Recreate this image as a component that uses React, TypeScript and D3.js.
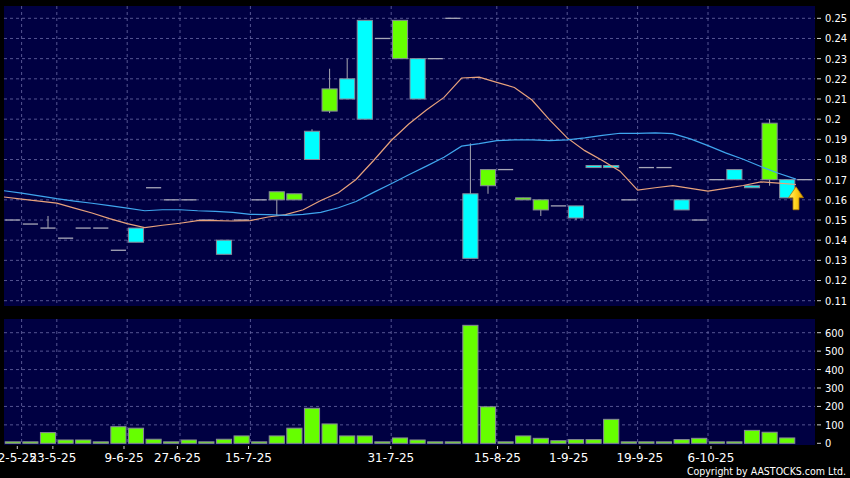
import React from 'react';
import * as d3 from 'd3';

// ---- data (one entry per trading slot) ----
const opens = [0.150, 0.148, 0.146, 0.141, 0.146, 0.146, 0.135, 0.146, 0.166, 0.160,
  0.160, 0.150, 0.140, 0.150, 0.160, 0.160, 0.160, 0.194, 0.204, 0.220,
  0.249, 0.240, 0.230, 0.230, 0.230, 0.250, 0.163, 0.167, 0.175, 0.160,
  0.155, 0.157, 0.157, 0.177, 0.177, 0.160, 0.176, 0.176, 0.160, 0.150,
  0.170, 0.175, 0.167, 0.170, 0.170, 0.170];
const highs = [0.150, 0.148, 0.152, 0.141, 0.146, 0.146, 0.135, 0.146, 0.166, 0.160,
  0.160, 0.150, 0.140, 0.150, 0.160, 0.164, 0.163, 0.195, 0.225, 0.230,
  0.249, 0.240, 0.249, 0.230, 0.230, 0.250, 0.188, 0.175, 0.175, 0.161,
  0.160, 0.157, 0.157, 0.177, 0.177, 0.160, 0.176, 0.176, 0.160, 0.150,
  0.170, 0.175, 0.167, 0.200, 0.170, 0.170];
const lows = [0.150, 0.148, 0.146, 0.141, 0.146, 0.146, 0.135, 0.139, 0.166, 0.160,
  0.160, 0.150, 0.133, 0.150, 0.160, 0.152, 0.160, 0.180, 0.203, 0.210,
  0.200, 0.240, 0.230, 0.210, 0.230, 0.250, 0.131, 0.163, 0.175, 0.160,
  0.152, 0.157, 0.150, 0.176, 0.176, 0.160, 0.176, 0.176, 0.155, 0.150,
  0.170, 0.170, 0.166, 0.167, 0.161, 0.170];
const closes = [0.150, 0.148, 0.146, 0.141, 0.146, 0.146, 0.135, 0.139, 0.166, 0.160,
  0.160, 0.150, 0.133, 0.150, 0.160, 0.164, 0.163, 0.180, 0.215, 0.210,
  0.200, 0.240, 0.249, 0.210, 0.230, 0.250, 0.131, 0.175, 0.175, 0.161,
  0.160, 0.157, 0.151, 0.176, 0.176, 0.160, 0.176, 0.176, 0.155, 0.150,
  0.170, 0.170, 0.166, 0.198, 0.161, 0.170];
const volumes = [8, 8, 58, 18, 18, 8, 90, 82, 22, 8,
  18, 8, 22, 40, 8, 40, 82, 190, 105, 40,
  40, 8, 29, 18, 8, 8, 640, 198, 8, 40,
  27, 14, 20, 20, 130, 8, 8, 8, 20, 27,
  8, 8, 70, 60, 29, 0];
const maShort = [0.1614, 0.1604, 0.1594, 0.1584, 0.1559, 0.1535, 0.1507, 0.1482, 0.1462, 0.1474,
  0.1484, 0.1497, 0.1497, 0.1495, 0.1497, 0.1515, 0.1527, 0.1551, 0.1597, 0.1635,
  0.1701, 0.1795, 0.1894, 0.1976, 0.2045, 0.2108, 0.2204, 0.2208, 0.2182, 0.2157,
  0.2095, 0.1996, 0.1907, 0.1844, 0.1795, 0.1742, 0.1648, 0.1660, 0.1670, 0.1657,
  0.1643, 0.1657, 0.1671, 0.1689, 0.1683, 0.1676];
const maLong = [0.1645, 0.1633, 0.1620, 0.1606, 0.1594, 0.1583, 0.1571, 0.1559, 0.1546, 0.1551,
  0.1551, 0.1546, 0.1543, 0.1538, 0.1528, 0.1527, 0.1523, 0.1528, 0.1538, 0.1561,
  0.1592, 0.1637, 0.1680, 0.1724, 0.1767, 0.1811, 0.1866, 0.1879, 0.1894, 0.1897,
  0.1897, 0.1894, 0.1897, 0.1907, 0.1920, 0.1930, 0.1930, 0.1932, 0.1928, 0.1902,
  0.1869, 0.1833, 0.1801, 0.1765, 0.1732, 0.1703];
const dateLabels = ['2-5-25', '23-5-25', '9-6-25', '27-6-25', '15-7-25', '31-7-25', '15-8-25', '1-9-25', '19-9-25', '6-10-25'];
const dateSlots = [1, 3, 7, 10, 14, 22, 28, 32, 36, 40];
const priceTicks = [0.11, 0.12, 0.13, 0.14, 0.15, 0.16, 0.17, 0.18, 0.19, 0.2, 0.21, 0.22, 0.23, 0.24, 0.25];
const volTicks = [0, 100, 200, 300, 400, 500, 600];
const markerSlot = 44;
const markerPrice = 0.1665;

const UP = '#66ff00';
const DOWN = '#00ffff';
const BG = '#000042';
const GRID = '#6a6aa6';
const EDGE = '#8a8a9a';
const FONT_C = '"DejaVu Sans Condensed", "DejaVu Sans", sans-serif';
const FONT = '"DejaVu Sans", sans-serif';

export default function App() {
  const W = 850, H = 478;
  const plotL = 4, plotR = 815;
  const mainTop = 6, mainBot = 306;
  const volTop = 319, volBot = 445;
  const n = closes.length;

  const xs = d3.scaleLinear().domain([0, n]).range([4, 813.6]);
  const xAxis = d3.scaleLinear().domain([0, n]).range([-0.5, 817.7]);
  const xb = d3.scaleBand<number>().domain(d3.range(n)).range([4, 813.6]).paddingInner(0.14).paddingOuter(0.07);
  const bw = xb.bandwidth();
  const y = d3.scaleLinear().domain([0.11, 0.25]).range([300.7, 18.3]);
  const yv = d3.scaleLinear().domain([0, 600]).range([443.3, 332.7]);

  const line = d3.line<number>().x((_, i) => xs(i)).y(d => y(d));

  const fmtP = (t: number) => String(+t.toFixed(2));

  return (
    <svg width={W} height={H} style={{ position: 'absolute', left: 0, top: 0, display: 'block' }} fontFamily={FONT_C}>
      <defs>
        <linearGradient id="arrowGrad" x1="0" y1="0" x2="1" y2="0">
          <stop offset="0" stopColor="#fff27a" />
          <stop offset="0.5" stopColor="#ffd21a" />
          <stop offset="1" stopColor="#e0a000" />
        </linearGradient>
        <clipPath id="mainClip"><rect x={plotL} y={mainTop} width={plotR - plotL} height={mainBot - mainTop} /></clipPath>
      </defs>
      <rect x={0} y={0} width={W} height={H} fill="#000" />
      <rect x={plotL} y={mainTop} width={plotR - plotL} height={mainBot - mainTop} fill={BG} />
      <rect x={plotL} y={volTop} width={plotR - plotL} height={volBot - volTop} fill={BG} />

      {/* horizontal grid */}
      {priceTicks.map(t => (
        <line key={'hp' + t} x1={plotL} x2={plotR} y1={y(t)} y2={y(t)} stroke={GRID} strokeWidth={0.8} strokeDasharray="3,3" />
      ))}
      {volTicks.filter(t => t > 0).map(t => (
        <line key={'hv' + t} x1={plotL} x2={plotR} y1={yv(t)} y2={yv(t)} stroke={GRID} strokeWidth={0.8} strokeDasharray="3,3" />
      ))}
      {/* vertical grid */}
      {dateSlots.map(k => (
        <g key={'vg' + k}>
          <line x1={xs(k)} x2={xs(k)} y1={mainTop} y2={mainBot} stroke={GRID} strokeWidth={0.8} strokeDasharray="3,3" />
          <line x1={xs(k)} x2={xs(k)} y1={volTop} y2={volBot} stroke={GRID} strokeWidth={0.8} strokeDasharray="3,3" />
        </g>
      ))}

      <g clipPath="url(#mainClip)">
        {/* candles */}
        {closes.map((c, i) => {
          const o = opens[i], h = highs[i], l = lows[i];
          const x0 = xb(i)!;
          const cx = xs(i + 0.5);
          const wick = h > l ? (
            <line x1={cx} x2={cx} y1={y(h)} y2={y(l)} stroke="#a8a8b0" strokeWidth={1} />
          ) : null;
          if (o === c) {
            return (
              <g key={'c' + i}>
                {wick}
                <line x1={x0} x2={x0 + bw} y1={y(c)} y2={y(c)} stroke="#a8a8b8" strokeWidth={1.3} />
              </g>
            );
          }
          const top = y(Math.max(o, c));
          const bot = y(Math.min(o, c));
          return (
            <g key={'c' + i}>
              {wick}
              <rect x={x0} y={top} width={bw} height={Math.max(bot - top, 1)} fill={c > o ? UP : DOWN} stroke={EDGE} strokeWidth={1} />
            </g>
          );
        })}
        {/* moving averages */}
        <path d={line(maShort) || ''} fill="none" stroke="#e8a27c" strokeWidth={1.2} />
        <path d={line(maLong) || ''} fill="none" stroke="#3fa6ee" strokeWidth={1.2} />
        {/* marker arrow */}
        <path
          transform={`translate(${xs(markerSlot + 1)},${y(markerPrice)})`}
          d="M0,0 L7.5,11 L3,11 L3,23 L-3,23 L-3,11 L-7.5,11 Z"
          fill="url(#arrowGrad)" stroke="#b07800" strokeWidth={0.8}
        />
      </g>

      {/* volume bars */}
      {volumes.map((v, i) => v > 0 ? (
        <rect key={'v' + i} x={xb(i)!} y={yv(v)} width={bw} height={yv(0) - yv(v)} fill={UP} stroke={EDGE} strokeWidth={1} />
      ) : null)}

      {/* price axis */}
      {priceTicks.map(t => (
        <g key={'pt' + t}>
          <line x1={817} x2={821} y1={y(t)} y2={y(t)} stroke="#cccccc" strokeWidth={1} />
          <text x={825} y={y(t)} dy="0.36em" fill="#ffffff" fontSize={11}>{fmtP(t)}</text>
        </g>
      ))}
      {/* volume axis */}
      {volTicks.map(t => (
        <g key={'vt' + t}>
          <line x1={817} x2={821} y1={yv(t)} y2={yv(t)} stroke="#cccccc" strokeWidth={1} />
          <text x={825} y={yv(t)} dy="0.36em" fill="#ffffff" fontSize={11}>{t}</text>
        </g>
      ))}
      {/* date axis */}
      {dateSlots.map((k, j) => (
        <g key={'dt' + k}>
          <line x1={xAxis(k)} x2={xAxis(k)} y1={446} y2={449} stroke="#cccccc" strokeWidth={1} />
          <text x={xAxis(k)} y={462} textAnchor="middle" fill="#ffffff" fontSize={12} fontFamily={FONT}>{dateLabels[j]}</text>
        </g>
      ))}
      <text x={846} y={475} textAnchor="end" fill="#ffffff" fontSize={10.5}>Copyright by AASTOCKS.com Ltd.</text>
    </svg>
  );
}
